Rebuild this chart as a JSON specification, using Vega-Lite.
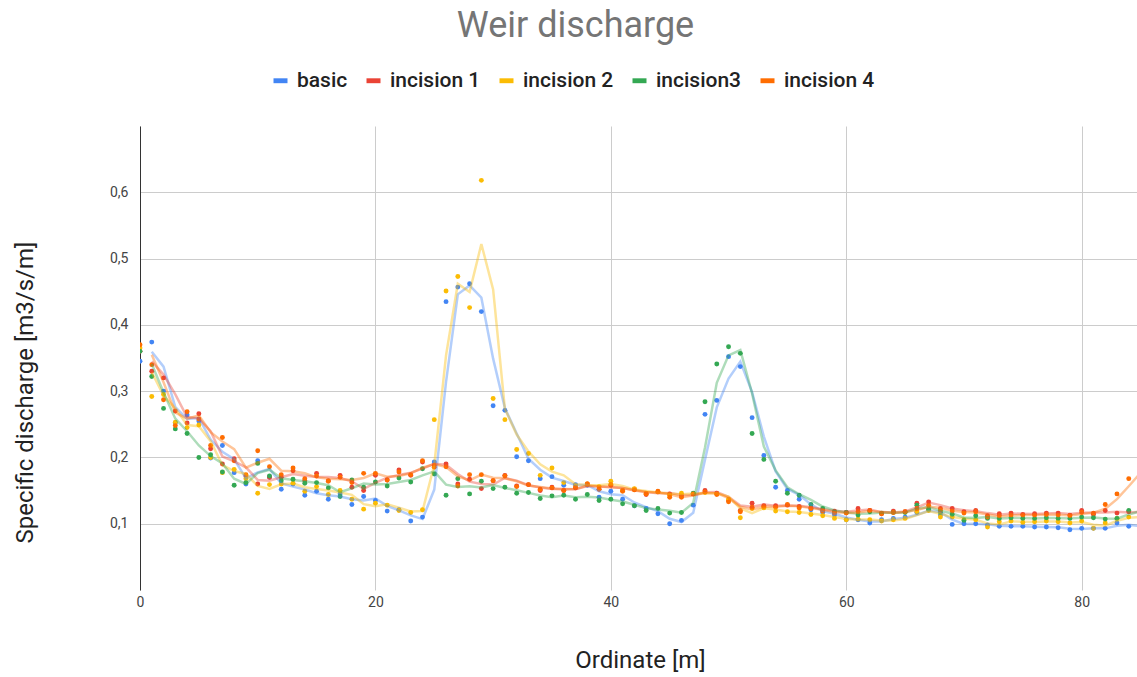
{
  "$schema": "https://vega.github.io/schema/vega-lite/v6.json",
  "autosize": "none",
  "width": 997,
  "height": 464,
  "padding": {"left": 140, "top": 126, "right": 0, "bottom": 87},
  "background": "white",
  "title": {"text": "Weir discharge", "font": "Roboto", "fontSize": 36, "fontWeight": "normal", "color": "#757575", "anchor": "middle", "frame": "group", "dx": -63, "offset": 25},
  "config": {"view": {"stroke": null}, "font": "Roboto"},
  "data": {"values": [
    {"x":0,"basic":0.345,"incision 1":0.360,"incision 2":0.365,"incision3":0.360,"incision 4":0.370},
    {"x":1,"basic":0.374,"incision 1":0.330,"incision 2":0.292,"incision3":0.322,"incision 4":0.340},
    {"x":2,"basic":0.300,"incision 1":0.320,"incision 2":0.295,"incision3":0.274,"incision 4":0.287},
    {"x":3,"basic":0.252,"incision 1":0.270,"incision 2":0.253,"incision3":0.243,"incision 4":0.248},
    {"x":4,"basic":0.264,"incision 1":0.252,"incision 2":0.245,"incision3":0.236,"incision 4":0.269},
    {"x":5,"basic":0.255,"incision 1":0.266,"incision 2":0.249,"incision3":0.200,"incision 4":0.258},
    {"x":6,"basic":0.199,"incision 1":0.213,"incision 2":0.200,"incision3":0.204,"incision 4":0.218},
    {"x":7,"basic":0.218,"incision 1":0.190,"incision 2":0.177,"incision3":0.178,"incision 4":0.230},
    {"x":8,"basic":0.177,"incision 1":0.198,"incision 2":0.182,"incision3":0.158,"incision 4":0.195},
    {"x":9,"basic":0.160,"incision 1":0.172,"incision 2":0.168,"incision3":0.162,"incision 4":0.174},
    {"x":10,"basic":0.195,"incision 1":0.160,"incision 2":0.146,"incision3":0.191,"incision 4":0.210},
    {"x":11,"basic":0.170,"incision 1":0.170,"incision 2":0.159,"incision3":0.172,"incision 4":0.186},
    {"x":12,"basic":0.152,"incision 1":0.170,"incision 2":0.160,"incision3":0.165,"incision 4":0.174},
    {"x":13,"basic":0.160,"incision 1":0.180,"incision 2":0.161,"incision3":0.167,"incision 4":0.184},
    {"x":14,"basic":0.143,"incision 1":0.165,"incision 2":0.149,"incision3":0.161,"incision 4":0.168},
    {"x":15,"basic":0.149,"incision 1":0.176,"incision 2":0.156,"incision3":0.162,"incision 4":0.172},
    {"x":16,"basic":0.137,"incision 1":0.165,"incision 2":0.144,"incision3":0.154,"incision 4":0.164},
    {"x":17,"basic":0.145,"incision 1":0.173,"incision 2":0.150,"incision3":0.141,"incision 4":0.170},
    {"x":18,"basic":0.129,"incision 1":0.155,"incision 2":0.137,"incision3":0.166,"incision 4":0.162},
    {"x":19,"basic":0.141,"incision 1":0.150,"incision 2":0.122,"incision3":0.155,"incision 4":0.176},
    {"x":20,"basic":0.135,"incision 1":0.173,"incision 2":0.131,"incision3":0.163,"incision 4":0.176},
    {"x":21,"basic":0.119,"incision 1":0.166,"incision 2":0.128,"incision3":0.157,"incision 4":0.166},
    {"x":22,"basic":0.121,"incision 1":0.181,"incision 2":0.120,"incision3":0.169,"incision 4":0.178},
    {"x":23,"basic":0.104,"incision 1":0.173,"incision 2":0.117,"incision3":0.163,"incision 4":0.174},
    {"x":24,"basic":0.110,"incision 1":0.193,"incision 2":0.121,"incision3":0.183,"incision 4":0.195},
    {"x":25,"basic":0.193,"incision 1":0.188,"incision 2":0.257,"incision3":0.175,"incision 4":0.185},
    {"x":26,"basic":0.435,"incision 1":0.190,"incision 2":0.451,"incision3":0.143,"incision 4":0.186},
    {"x":27,"basic":0.457,"incision 1":0.160,"incision 2":0.473,"incision3":0.168,"incision 4":0.157},
    {"x":28,"basic":0.462,"incision 1":0.167,"incision 2":0.426,"incision3":0.145,"incision 4":0.174},
    {"x":29,"basic":0.420,"incision 1":0.153,"incision 2":0.618,"incision3":0.164,"incision 4":0.174},
    {"x":30,"basic":0.278,"incision 1":0.165,"incision 2":0.289,"incision3":0.153,"incision 4":0.165},
    {"x":31,"basic":0.271,"incision 1":0.173,"incision 2":0.257,"incision3":0.155,"incision 4":0.172},
    {"x":32,"basic":0.201,"incision 1":0.157,"incision 2":0.212,"incision3":0.146,"incision 4":0.156},
    {"x":33,"basic":0.195,"incision 1":0.159,"incision 2":0.206,"incision3":0.147,"incision 4":0.159},
    {"x":34,"basic":0.168,"incision 1":0.150,"incision 2":0.173,"incision3":0.138,"incision 4":0.152},
    {"x":35,"basic":0.171,"incision 1":0.155,"incision 2":0.184,"incision3":0.142,"incision 4":0.154},
    {"x":36,"basic":0.158,"incision 1":0.150,"incision 2":0.162,"incision3":0.143,"incision 4":0.150},
    {"x":37,"basic":0.159,"incision 1":0.154,"incision 2":0.157,"incision3":0.137,"incision 4":0.155},
    {"x":38,"basic":0.158,"incision 1":0.160,"incision 2":0.160,"incision3":0.144,"incision 4":0.160},
    {"x":39,"basic":0.140,"incision 1":0.152,"incision 2":0.156,"incision3":0.135,"incision 4":0.152},
    {"x":40,"basic":0.149,"incision 1":0.158,"incision 2":0.164,"incision3":0.137,"incision 4":0.159},
    {"x":41,"basic":0.137,"incision 1":0.150,"incision 2":0.150,"incision3":0.130,"incision 4":0.149},
    {"x":42,"basic":0.127,"incision 1":0.152,"incision 2":0.153,"incision3":0.127,"incision 4":0.151},
    {"x":43,"basic":0.123,"incision 1":0.144,"incision 2":0.146,"incision3":0.120,"incision 4":0.145},
    {"x":44,"basic":0.115,"incision 1":0.148,"incision 2":0.148,"incision3":0.123,"incision 4":0.149},
    {"x":45,"basic":0.100,"incision 1":0.145,"incision 2":0.143,"incision3":0.116,"incision 4":0.140},
    {"x":46,"basic":0.105,"incision 1":0.142,"incision 2":0.146,"incision3":0.117,"incision 4":0.140},
    {"x":47,"basic":0.128,"incision 1":0.145,"incision 2":0.145,"incision3":0.146,"incision 4":0.145},
    {"x":48,"basic":0.265,"incision 1":0.150,"incision 2":0.147,"incision3":0.284,"incision 4":0.148},
    {"x":49,"basic":0.286,"incision 1":0.146,"incision 2":0.145,"incision3":0.341,"incision 4":0.144},
    {"x":50,"basic":0.352,"incision 1":0.135,"incision 2":0.137,"incision3":0.367,"incision 4":0.133},
    {"x":51,"basic":0.337,"incision 1":0.120,"incision 2":0.109,"incision3":0.357,"incision 4":0.118},
    {"x":52,"basic":0.260,"incision 1":0.131,"incision 2":0.123,"incision3":0.236,"incision 4":0.125},
    {"x":53,"basic":0.203,"incision 1":0.127,"incision 2":0.124,"incision3":0.197,"incision 4":0.126},
    {"x":54,"basic":0.155,"incision 1":0.127,"incision 2":0.119,"incision3":0.164,"incision 4":0.125},
    {"x":55,"basic":0.150,"incision 1":0.128,"incision 2":0.118,"incision3":0.146,"incision 4":0.129},
    {"x":56,"basic":0.137,"incision 1":0.126,"incision 2":0.117,"incision3":0.143,"incision 4":0.124},
    {"x":57,"basic":0.121,"incision 1":0.124,"incision 2":0.114,"incision3":0.129,"incision 4":0.123},
    {"x":58,"basic":0.117,"incision 1":0.120,"incision 2":0.112,"incision3":0.123,"incision 4":0.119},
    {"x":59,"basic":0.113,"incision 1":0.119,"incision 2":0.108,"incision3":0.117,"incision 4":0.116},
    {"x":60,"basic":0.106,"incision 1":0.117,"incision 2":0.106,"incision3":0.117,"incision 4":0.116},
    {"x":61,"basic":0.106,"incision 1":0.123,"incision 2":0.107,"incision3":0.113,"incision 4":0.118},
    {"x":62,"basic":0.101,"incision 1":0.120,"incision 2":0.106,"incision3":0.118,"incision 4":0.120},
    {"x":63,"basic":0.106,"incision 1":0.115,"incision 2":0.104,"incision3":0.116,"incision 4":0.115},
    {"x":64,"basic":0.108,"incision 1":0.119,"incision 2":0.106,"incision3":0.117,"incision 4":0.117},
    {"x":65,"basic":0.110,"incision 1":0.118,"incision 2":0.108,"incision3":0.117,"incision 4":0.118},
    {"x":66,"basic":0.117,"incision 1":0.131,"incision 2":0.118,"incision3":0.128,"incision 4":0.123},
    {"x":67,"basic":0.122,"incision 1":0.133,"incision 2":0.120,"incision3":0.122,"incision 4":0.128},
    {"x":68,"basic":0.113,"incision 1":0.123,"incision 2":0.110,"incision3":0.117,"incision 4":0.120},
    {"x":69,"basic":0.099,"incision 1":0.123,"incision 2":0.110,"incision3":0.114,"incision 4":0.119},
    {"x":70,"basic":0.100,"incision 1":0.118,"incision 2":0.106,"incision3":0.105,"incision 4":0.116},
    {"x":71,"basic":0.100,"incision 1":0.120,"incision 2":0.106,"incision3":0.112,"incision 4":0.118},
    {"x":72,"basic":0.098,"incision 1":0.112,"incision 2":0.095,"incision3":0.108,"incision 4":0.110},
    {"x":73,"basic":0.096,"incision 1":0.115,"incision 2":0.103,"incision3":0.108,"incision 4":0.112},
    {"x":74,"basic":0.096,"incision 1":0.116,"incision 2":0.104,"incision3":0.109,"incision 4":0.113},
    {"x":75,"basic":0.096,"incision 1":0.114,"incision 2":0.102,"incision3":0.108,"incision 4":0.113},
    {"x":76,"basic":0.095,"incision 1":0.115,"incision 2":0.103,"incision3":0.108,"incision 4":0.113},
    {"x":77,"basic":0.095,"incision 1":0.116,"incision 2":0.104,"incision3":0.109,"incision 4":0.114},
    {"x":78,"basic":0.094,"incision 1":0.116,"incision 2":0.103,"incision3":0.108,"incision 4":0.113},
    {"x":79,"basic":0.091,"incision 1":0.113,"incision 2":0.101,"incision3":0.108,"incision 4":0.112},
    {"x":80,"basic":0.093,"incision 1":0.120,"incision 2":0.104,"incision3":0.110,"incision 4":0.117},
    {"x":81,"basic":0.093,"incision 1":0.114,"incision 2":0.093,"incision3":0.109,"incision 4":0.116},
    {"x":82,"basic":0.093,"incision 1":0.120,"incision 2":0.101,"incision3":0.107,"incision 4":0.129},
    {"x":83,"basic":0.101,"incision 1":0.116,"incision 2":0.108,"incision3":0.108,"incision 4":0.145},
    {"x":84,"basic":0.096,"incision 1":0.118,"incision 2":0.110,"incision3":0.120,"incision 4":0.168},
    {"x":85,"basic":0.097,"incision 1":0.118,"incision 2":0.110,"incision3":0.118,"incision 4":0.185}
  ]},
  "transform": [
    {"fold": ["basic", "incision 1", "incision 2", "incision3", "incision 4"], "as": ["series", "v"]}
  ],
  "encoding": {
    "x": {"field": "x", "type": "quantitative",
      "scale": {"domain": [0, 84.7], "nice": false, "zero": false},
      "axis": {"values": [0, 20, 40, 60, 80], "domain": false, "ticks": false, "grid": true, "gridColor": "#cccccc", "gridWidth": 1,
        "labelFont": "Roboto", "labelFontSize": 14, "labelColor": "#444444", "labelPadding": 5, "labelFlush": false,
        "title": "Ordinate [m]", "titleFont": "Roboto", "titleFontSize": 24, "titleFontWeight": "normal", "titleColor": "#222222",
        "titleX": 500, "titleY": 70, "titleBaseline": "middle", "titleAnchor": null}},
    "y": {"field": "v", "type": "quantitative",
      "scale": {"domain": [0, 0.7], "nice": false, "zero": false},
      "axis": {"values": [0.1, 0.2, 0.3, 0.4, 0.5, 0.6], "domain": true, "domainColor": "#333333", "domainWidth": 1, "ticks": false, "grid": true, "gridColor": "#cccccc", "gridWidth": 1,
        "labelExpr": "replace(format(datum.value, '.1f'), '.', ',')",
        "labelFont": "Roboto", "labelFontSize": 14, "labelColor": "#444444", "labelPadding": 12,
        "title": "Specific discharge [m3/s/m]", "titleFont": "Roboto", "titleFontSize": 24, "titleFontWeight": "normal", "titleColor": "#222222",
        "titleX": -115, "titleY": 266, "titleBaseline": "middle", "titleAngle": -90, "titleAnchor": null}},
    "color": {"field": "series", "type": "nominal",
      "scale": {"domain": ["basic", "incision 1", "incision 2", "incision3", "incision 4"], "range": ["#4285F4", "#EA4335", "#FBBC04", "#34A853", "#FF6D01"]}}
  },
  "layer": [
    {
      "mark": {"type": "circle", "size": 24, "opacity": 1, "clip": true},
      "encoding": {
        "color": {"field": "series", "type": "nominal",
          "legend": {"orient": "none", "legendX": 130, "legendY": -56, "direction": "horizontal", "title": null, "padding": 0,
            "labelFont": "Roboto", "labelFontSize": 21, "labelFontWeight": 500, "labelColor": "#222222", "labelOffset": 6,
            "symbolType": "M-1,-0.35H1V0.35H-1Z", "symbolSize": 196, "symbolStrokeWidth": 0, "symbolOpacity": 1, "columnPadding": 15}}
      }
    },
    {
      "transform": [
        {"window": [{"op": "mean", "field": "v", "as": "ma"}], "frame": [-1, 0], "groupby": ["series"], "sort": [{"field": "x"}]},
        {"filter": "datum.x >= 1"}
      ],
      "mark": {"type": "line", "strokeWidth": 2.5, "opacity": 0.4, "clip": true},
      "encoding": {
        "y": {"field": "ma", "type": "quantitative"},
        "color": {"field": "series", "type": "nominal", "legend": null}
      }
    }
  ]
}
